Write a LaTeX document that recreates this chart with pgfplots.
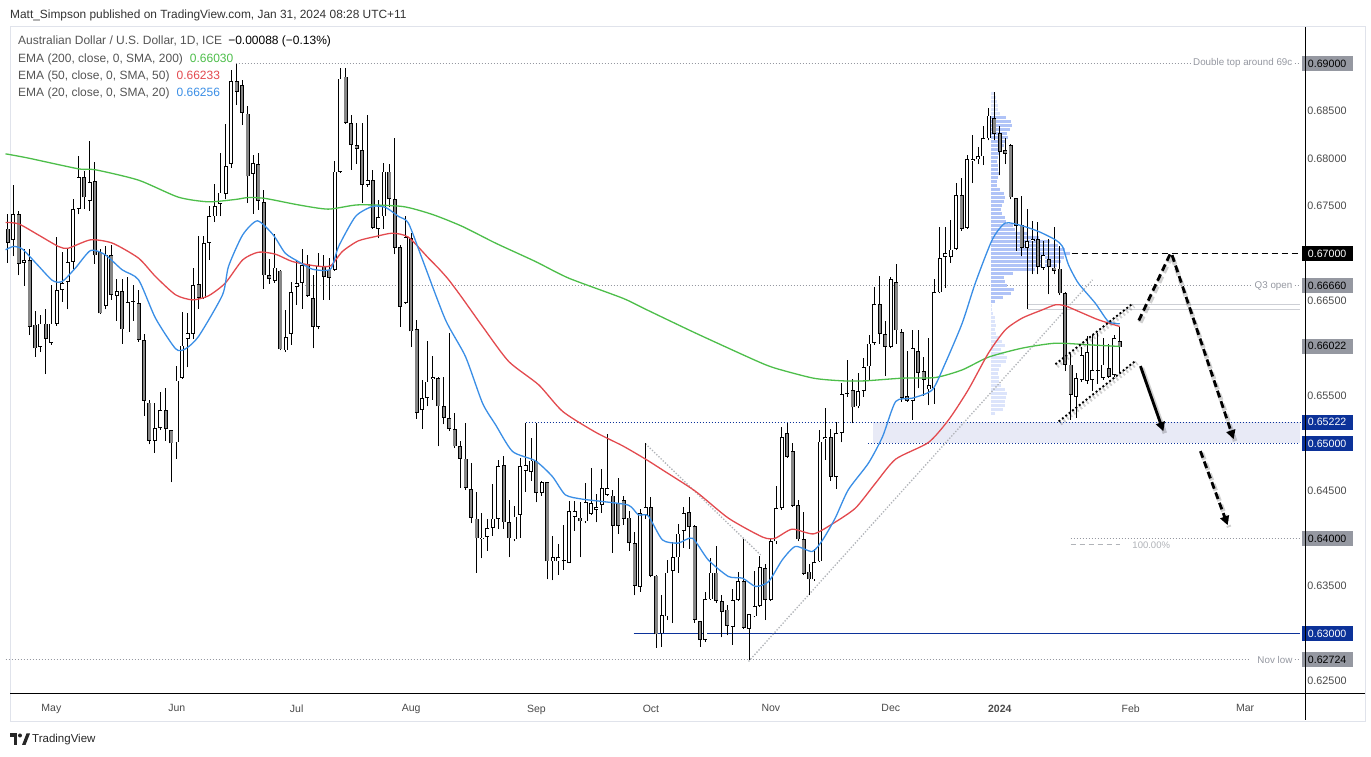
\documentclass[border=0pt]{standalone}
\usepackage{fontspec}
\setmainfont{Liberation Sans}
\usepackage{pgfplots}
\pgfplotsset{compat=1.18}
\usepackage{pgfplotstable}
\usetikzlibrary{arrows.meta}

\definecolor{maGreen}{HTML}{4DBE4A}
\definecolor{maRed}{HTML}{E34A4F}
\definecolor{maBlue}{HTML}{3A8EE6}
\definecolor{lblgray}{HTML}{9598A1}
\definecolor{navy}{HTML}{0C3299}
\definecolor{zonefill}{HTML}{E8EAF6}
\definecolor{vpdark}{HTML}{B0C3F7}
\definecolor{vplight}{HTML}{DCE4FB}
\definecolor{annogray}{HTML}{9598A1}
\definecolor{axisgray}{HTML}{4A4A4A}
\definecolor{framegray}{HTML}{E0E3EB}
\definecolor{beargray}{HTML}{858585}
\definecolor{legtext}{HTML}{555555}
\definecolor{trendgray}{HTML}{B0B3B8}

% AUD/USD daily candles: n open high low close
\pgfplotstableread{
n o h l c
1 .6726 .6742 .6690 .6711
2 .6714 .6772 .6697 .6741
3 .6741 .6745 .6677 .6689
4 .6690 .6705 .6666 .6693
5 .6693 .6705 .6614 .6623
6 .6625 .6639 .6591 .6600
7 .6602 .6635 .6596 .6626
8 .6626 .6642 .6573 .6610
9 .6606 .6667 .6604 .6626
10 .6626 .6717 .6624 .6661
11 .6662 .6702 .6649 .6669
12 .6670 .6705 .6641 .6691
13 .6691 .6757 .6684 .6747
14 .6747 .6803 .6741 .6780
15 .6780 .6787 .6747 .6759
16 .6755 .6818 .6745 .6775
17 .6776 .6796 .6689 .6698
18 .6701 .6705 .6636 .6637
19 .6645 .6708 .6641 .6698
20 .6698 .6709 .6651 .6656
21 .6655 .6673 .6629 .6660
22 .6660 .6673 .6605 .6620
23 .6617 .6675 .6617 .6649
24 .6649 .6667 .6629 .6650
25 .6648 .6661 .6607 .6609
26 .6609 .6615 .6529 .6545
27 .6543 .6546 .6499 .6503
28 .6503 .6543 .6490 .6516
29 .6516 .6554 .6514 .6535
30 .6535 .6558 .6503 .6515
31 .6514 .6514 .6459 .6500
32 .6501 .6581 .6484 .6566
33 .6569 .6638 .6568 .6603
34 .6610 .6637 .6580 .6616
35 .6615 .6685 .6610 .6667
36 .6668 .6718 .6642 .6653
37 .6653 .6718 .6652 .6711
38 .6711 .6750 .6693 .6739
39 .6739 .6773 .6733 .6750
40 .6752 .6806 .6739 .6764
41 .6763 .6836 .6757 .6792
42 .6794 .6893 .6790 .6881
43 .6881 .6899 .6856 .6870
44 .6877 .6883 .6835 .6848
45 .6847 .6855 .6753 .6781
46 .6784 .6804 .6742 .6795
47 .6794 .6806 .6746 .6755
48 .6754 .6767 .6663 .6677
49 .6677 .6694 .6668 .6673
50 .6671 .6720 .6669 .6685
51 .6682 .6683 .6598 .6599
52 .6598 .6640 .6596 .6612
53 .6615 .6670 .6604 .6659
54 .6665 .6693 .6646 .6669
55 .6669 .6705 .6642 .6688
56 .6689 .6698 .6654 .6655
57 .6653 .6677 .6600 .6623
58 .6623 .6700 .6620 .6687
59 .6687 .6698 .6651 .6675
60 .6683 .6695 .6651 .6674
61 .6683 .6797 .6682 .6786
62 .6786 .6895 .6785 .6884
63 .6886 .6895 .6836 .6837
64 .6837 .6846 .6788 .6814
65 .6814 .6837 .6794 .6810
66 .6809 .6837 .6753 .6772
67 .6772 .6846 .6770 .6777
68 .6777 .6788 .6726 .6727
69 .6726 .6756 .6716 .6738
70 .6739 .6795 .6726 .6786
71 .6786 .6794 .6749 .6757
72 .6757 .6821 .6699 .6706
73 .6707 .6709 .6623 .6644
74 .6648 .6739 .6647 .6717
75 .6716 .6722 .6602 .6618
76 .6620 .6630 .6526 .6532
77 .6535 .6567 .6515 .6548
78 .6548 .6608 .6539 .6565
79 .6568 .6592 .6546 .6570
80 .6569 .6570 .6497 .6539
81 .6539 .6570 .6520 .6527
82 .6527 .6616 .6513 .6515
83 .6515 .6532 .6495 .6497
84 .6497 .6503 .6453 .6484
85 .6484 .6521 .6451 .6453
86 .6452 .6479 .6416 .6422
87 .6421 .6449 .6364 .6400
88 .6399 .6427 .6379 .6401
89 .6402 .6420 .6387 .6411
90 .6411 .6457 .6403 .6421
91 .6421 .6483 .6410 .6476
92 .6477 .6487 .6410 .6417
93 .6417 .6440 .6380 .6400
94 .6399 .6434 .6397 .6423
95 .6425 .6485 .6401 .6476
96 .6471 .6521 .6449 .6477
97 .6470 .6506 .6461 .6482
98 .6482 .6521 .6438 .6448
99 .6448 .6460 .6445 .6459
100 .6459 .6459 .6357 .6376
101 .6376 .6403 .6356 .6380
102 .6376 .6394 .6362 .6380
103 .6376 .6414 .6367 .6377
104 .6374 .6439 .6374 .6429
105 .6423 .6439 .6408 .6429
106 .6422 .6438 .6380 .6418
107 .6418 .6458 .6416 .6438
108 .6426 .6474 .6425 .6437
109 .6430 .6447 .6417 .6433
110 .6435 .6473 .6427 .6453
111 .6446 .6510 .6445 .6453
112 .6445 .6451 .6385 .6413
113 .6437 .6464 .6405 .6413
114 .6440 .6445 .6414 .6421
115 .6422 .6429 .6387 .6395
116 .6395 .6407 .6340 .6350
117 .6349 .6431 .6344 .6427
118 .6425 .6500 .6421 .6433
119 .6433 .6444 .6359 .6361
120 .6361 .6362 .6285 .6299
121 .6300 .6341 .6286 .6319
122 .6318 .6377 .6314 .6364
123 .6366 .6396 .6311 .6380
124 .6380 .6415 .6364 .6405
125 .6408 .6433 .6390 .6427
126 .6428 .6444 .6389 .6412
127 .6413 .6414 .6311 .6314
128 .6313 .6313 .6286 .6293
129 .6293 .6344 .6291 .6336
130 .6336 .6379 .6335 .6364
131 .6364 .6392 .6332 .6334
132 .6334 .6341 .6296 .6323
133 .6325 .6330 .6298 .6308
134 .6307 .6347 .6288 .6335
135 .6335 .6365 .6334 .6355
136 .6355 .6399 .6305 .6306
137 .6305 .6320 .6272 .6320
138 .6318 .6366 .6317 .6329
139 .6329 .6382 .6328 .6370
140 .6369 .6373 .6314 .6335
141 .6335 .6399 .6334 .6397
142 .6397 .6455 .6394 .6432
143 .6432 .6517 .6430 .6507
144 .6511 .6522 .6485 .6486
145 .6492 .6500 .6433 .6434
146 .6435 .6441 .6397 .6399
147 .6399 .6428 .6362 .6363
148 .6365 .6373 .6340 .6357
149 .6357 .6389 .6355 .6375
150 .6376 .6514 .6375 .6502
151 .6505 .6537 .6483 .6507
152 .6507 .6515 .6461 .6465
153 .6465 .6523 .6452 .6511
154 .6511 .6564 .6501 .6552
155 .6552 .6588 .6549 .6553
156 .6556 .6568 .6521 .6538
157 .6539 .6574 .6537 .6555
158 .6555 .6590 .6549 .6580
159 .6581 .6614 .6566 .6605
160 .6606 .6665 .6604 .6647
161 .6647 .6676 .6605 .6615
162 .6615 .6629 .6571 .6602
163 .6602 .6675 .6600 .6673
164 .6670 .6689 .6605 .6619
165 .6617 .6620 .6544 .6548
166 .6550 .6597 .6544 .6545
167 .6545 .6619 .6525 .6600
168 .6597 .6619 .6558 .6574
169 .6576 .6591 .6550 .6567
170 .6557 .6611 .6540 .6561
171 .6558 .6673 .6542 .6659
172 .6659 .6728 .6658 .6695
173 .6696 .6728 .6664 .6700
174 .6696 .6735 .6690 .6704
175 .6705 .6774 .6704 .6761
176 .6761 .6779 .6724 .6726
177 .6727 .6804 .6726 .6799
178 .6797 .6825 .6774 .6799
179 .6799 .6812 .6794 .6802
180 .6802 .6834 .6793 .6821
181 .6821 .6853 .6819 .6845
182 .6842 .6870 .6819 .6826
183 .6827 .6834 .6782 .6807
184 .6809 .6821 .6794 .6805
185 .6814 .6815 .6757 .6759
186 .6758 .6758 .6703 .6729
187 .6730 .6760 .6697 .6706
188 .6706 .6747 .6641 .6713
189 .6713 .6734 .6678 .6715
190 .6715 .6733 .6678 .6686
191 .6685 .6713 .6683 .6698
192 .6694 .6715 .6657 .6686
193 .6685 .6728 .6678 .6682
194 .6684 .6708 .6656 .6658
195 .6658 .6659 .6576 .6583
196 .6583 .6594 .6525 .6551
197 .6549 .6574 .6527 .6569
198 .6567 .6602 .6565 .6593
199 .6566 .6613 .6563 .6596
200 .6567 .6614 .6555 .6577
201 .6576 .6616 .6563 .6577
202 .6569 .6611 .6567 .6583
203 .6579 .6605 .6569 .6570
204 .6572 .6614 .6570 .6611
205 .6608 .6623 .6574 .6601
}\candles

% volume profile, value area rows (price, length in bars)
\pgfplotstableread{
p len
.68434 2.75
.68392 3.67
.68350 3.85
.68308 3.49
.68266 2.94
.68224 3.12
.68182 2.57
.68139 2.38
.68097 1.65
.68055 1.47
.68013 1.28
.67971 1.10
.67929 1.28
.67887 1.28
.67845 1.47
.67803 1.28
.67761 1.10
.67718 1.10
.67676 1.65
.67634 2.38
.67592 2.57
.67550 2.38
.67508 2.02
.67466 1.83
.67424 2.02
.67382 2.57
.67339 2.75
.67297 4.04
.67255 4.40
.67213 6.60
.67171 8.81
.67129 10.82
.67087 12.29
.67045 13.58
.67003 14.49
.66961 13.39
.66918 12.84
.66876 12.11
.66834 8.07
.66792 4.04
.66750 2.38
.66708 2.57
.66666 2.94
.66624 4.22
.66582 3.67
.66540 2.20
.66498 0.73
}\vparea

% volume profile, rows outside the value area
\pgfplotstableread{
p len
.68687 0.73
.68645 0.92
.68603 1.10
.68561 1.28
.68518 1.28
.68476 1.65
.66455 0.18
.66413 0.18
.66371 0.37
.66329 0.73
.66287 0.73
.66245 0.92
.66203 0.73
.66161 0.92
.66119 1.47
.66077 2.02
.66035 2.57
.65993 1.83
.65951 2.38
.65909 2.94
.65866 2.75
.65824 1.83
.65782 1.47
.65740 1.28
.65698 1.47
.65656 1.47
.65614 1.83
.65572 2.57
.65530 2.94
.65488 2.75
.65446 2.57
.65403 2.57
.65361 2.20
.65319 0.73
}\vprest

\tikzset{
  pricelbl/.style={anchor=west, xshift=1pt, inner sep=0pt, minimum width=51pt,
    minimum height=15pt, font=\fontsize{10.6}{12}\selectfont},
  annotxt/.style={anchor=east, inner sep=0pt, font=\fontsize{9.8}{11}\selectfont, text=annogray},
  hdot/.style={annogray, line width=0.9pt, dash pattern=on 1pt off 2pt},
  bdot/.style={navy, line width=1pt, dash pattern=on 1pt off 2pt},
  shadow/.style={black, opacity=0.18, line width=4.5pt, shift={(1.5pt,-2pt)}},
}

\begin{document}
\begin{tikzpicture}[x=1pt,y=1pt]
\path[use as bounding box, fill=white] (0,0) rectangle (1371,757);
\draw[framegray, line width=1pt] (10,35) rectangle (1365,730);

\begin{axis}[
  at={(10,63)}, anchor=south west, scale only axis,
  width=1295pt, height=667pt,
  xmin=0.578, xmax=238.15, ymin=0.6233, ymax=0.6935,
  axis line style={draw=none},
  clip=false,
  major tick length=0pt,
  xtick={9,32,54,75,98,119,141,163,183,207,228},
  xticklabels={May,Jun,Jul,Aug,Sep,Oct,Nov,Dec,\textbf{2024},Feb,Mar},
  xticklabel style={font=\fontsize{10.5}{12}\selectfont, text=axisgray, yshift=-4pt},
  ytick={0.625,0.635,0.645,0.655,0.665,0.675,0.680,0.685},
  yticklabel pos=right,
  yticklabel style={font=\fontsize{10.8}{12}\selectfont, text=axisgray, xshift=3.5pt,
    /pgf/number format/.cd, fixed, fixed zerofill, precision=5},
  /pgf/number format/assume math mode=true,
  scaled y ticks=false,
  unbounded coords=discard,
]

% support zone and horizontal levels
\fill[zonefill] (axis cs:159.8,0.65) rectangle (axis cs:238.15,0.65222);
\draw[bdot] (axis cs:96,0.65222) -- (axis cs:238.15,0.65222);
\draw[bdot] (axis cs:158.9,0.65) -- (axis cs:238.15,0.65);
\draw[navy, line width=1.1pt] (axis cs:115.8,0.63) -- (axis cs:238.15,0.63);
\draw[hdot] (axis cs:42.8,0.69) -- (axis cs:218,0.69);
\draw[hdot] (axis cs:237.1,0.69) -- (axis cs:238.1,0.69);
\node[annotxt] at (axis cs:236.7,0.69) {Double top around 69c};
\draw[hdot] (axis cs:53.8,0.6666) -- (axis cs:229,0.6666);
\draw[hdot] (axis cs:237.1,0.6666) -- (axis cs:238.1,0.6666);
\node[annotxt] at (axis cs:236.7,0.6666) {Q3 open};
\draw[hdot] (axis cs:0.6,0.62724) -- (axis cs:229,0.62724);
\draw[hdot] (axis cs:237.1,0.62724) -- (axis cs:238.1,0.62724);
\node[annotxt] at (axis cs:236.7,0.62724) {Nov low};
\draw[black, line width=1.2pt, dash pattern=on 6pt off 4pt] (axis cs:181.5,0.67) -- (axis cs:238.15,0.67);
\draw[framegray!80!gray, line width=0.9pt] (axis cs:188.1,0.66466) -- (axis cs:238.15,0.66466);
\draw[framegray!80!gray, line width=0.9pt] (axis cs:188.1,0.66406) -- (axis cs:238.15,0.66406);
% fib 100% level
\draw[hdot] (axis cs:196,0.6400) -- (axis cs:238.15,0.6400);
\draw[trendgray, line width=0.9pt, dash pattern=on 5pt off 4pt] (axis cs:196,0.63933) -- (axis cs:205.1,0.63933);
\node[anchor=west, inner sep=0pt, font=\fontsize{9.5}{10}\selectfont, text=trendgray] at (axis cs:207.3,0.63933) {100.00\%};

% volume profile
\addplot[draw=none, mark=none, forget plot, error bars/.cd, x dir=plus, x explicit,
  error mark=none, error bar style={draw=vpdark, line width=3pt}]
  table[x expr=181.46, y=p, x error plus=len] {\vparea};
\addplot[draw=none, mark=none, forget plot, error bars/.cd, x dir=plus, x explicit,
  error mark=none, error bar style={draw=vplight, line width=3pt}]
  table[x expr=181.46, y=p, x error plus=len] {\vprest};

% trend lines
\draw[trendgray, line width=1.3pt, dash pattern=on 1.3pt off 1.7pt] (axis cs:118.0,0.64996) -- (axis cs:139.1,0.63828);
\draw[trendgray, line width=1.3pt, dash pattern=on 1.3pt off 1.7pt] (axis cs:136.9,0.62705) -- (axis cs:200.0,0.66722);

% candles: wicks, body outlines, bull and bear fills
\addplot[draw=none, mark=none, forget plot, error bars/.cd, y dir=plus, y explicit,
  error mark=none, error bar style={draw=black, line width=1pt}]
  table[x=n, y=l, y error plus expr=\thisrow{h}-\thisrow{l}] {\candles};
\addplot[draw=none, mark=none, forget plot, error bars/.cd, y dir=plus, y explicit,
  error mark=none, error bar style={draw=black, line width=4pt}]
  table[x=n, y expr={min(\thisrow{o},\thisrow{c})},
    y error plus expr={max(abs(\thisrow{c}-\thisrow{o}),0.00009)}] {\candles};
\addplot[draw=none, mark=none, forget plot,
  restrict expr to domain={\thisrow{c}-\thisrow{o}}{0.00017:1},
  error bars/.cd, y dir=plus, y explicit,
  error mark=none, error bar style={draw=white, line width=2.5pt}]
  table[x=n, y expr=\thisrow{o}+0.00008,
    y error plus expr=\thisrow{c}-\thisrow{o}-0.00016] {\candles};
\addplot[draw=none, mark=none, forget plot,
  restrict expr to domain={\thisrow{o}-\thisrow{c}}{0.00017:1},
  error bars/.cd, y dir=plus, y explicit,
  error mark=none, error bar style={draw=beargray, line width=2.5pt}]
  table[x=n, y expr=\thisrow{c}+0.00008,
    y error plus expr=\thisrow{o}-\thisrow{c}-0.00016] {\candles};

% moving averages
\addplot[maGreen, line width=1.3pt, smooth, tension=0.4, mark=none] coordinates {
(0.6,0.68048) (4.8,0.68003) (14.0,0.67890) (17.1,0.67880) (25.0,0.67771)
(32.3,0.67592) (37.8,0.67543) (42.8,0.67568) (45.2,0.67589) (48.3,0.67578)
(54.3,0.67511) (59.8,0.67466) (65.3,0.67511) (73.4,0.67494) (78.9,0.67410)
(84.4,0.67284) (90.5,0.67108) (97.8,0.66915) (103.9,0.66740) (113.8,0.66529)
(118.0,0.66413) (127.2,0.66161) (138.2,0.65873) (141.8,0.65792) (148.8,0.65687)
(154.1,0.65659) (158.3,0.65659) (165.1,0.65687) (171.2,0.65694) (176.1,0.65774)
(180.9,0.65908) (187.1,0.66003) (193.2,0.66055) (199.3,0.66038) (205.0,0.66021)};
\addplot[maRed, line width=1.3pt, smooth, tension=0.4, mark=none] coordinates {
(0.6,0.67326) (3.0,0.67311) (6.6,0.67195) (10.3,0.67073) (12.1,0.67055)
(16.2,0.67143) (20.2,0.67108) (25.0,0.66950) (28.1,0.66757) (31.8,0.66564)
(34.9,0.66511) (37.8,0.66553) (40.9,0.66687) (44.1,0.66932) (47.0,0.67013)
(50.1,0.66992) (53.2,0.66915) (57.4,0.66869) (60.2,0.66869) (62.4,0.67021)
(65.3,0.67132) (68.5,0.67178) (71.6,0.67213) (74.5,0.67171) (78.2,0.66950)
(80.0,0.66845) (81.9,0.66722) (84.4,0.66529) (88.1,0.66231) (92.9,0.65863)
(98.4,0.65617) (102.8,0.65337) (108.8,0.65119) (113.8,0.64975) (118.0,0.64835)
(121.1,0.64722) (127.2,0.64495) (133.2,0.64214) (139.5,0.64014) (141.8,0.64003)
(144.9,0.64098) (148.8,0.64048) (152.3,0.64154) (156.5,0.64319) (160.2,0.64582)
(163.9,0.64835) (169.9,0.65010) (173.6,0.65248) (177.2,0.65564) (180.9,0.65950)
(184.0,0.66195) (187.1,0.66319) (190.8,0.66406) (193.2,0.66459) (195.0,0.66448)
(198.2,0.66371) (201.1,0.66301) (205.0,0.66231)};
\addplot[maBlue, line width=1.3pt, smooth, tension=0.4, mark=none] coordinates {
(0.6,0.67038) (2.05,0.67073) (3.7,0.67045) (6.45,0.66880) (9.2,0.66715)
(11.0,0.66705) (13.4,0.66845) (16.2,0.67031) (18.9,0.66985) (22.0,0.66827)
(25.0,0.66722) (28.1,0.66319) (31.8,0.65996) (33.6,0.65996) (36.0,0.66126)
(40.4,0.66564) (41.5,0.66863) (44.1,0.67195) (46.8,0.67343) (49.7,0.67195)
(51.9,0.67003) (54.3,0.66915) (56.9,0.66834) (60.2,0.66834) (61.7,0.67073)
(64.8,0.67389) (67.9,0.67494) (70.3,0.67484) (72.7,0.67389) (74.5,0.67319)
(77.1,0.66932) (81.3,0.66301) (84.96,0.65916) (88.1,0.65424) (90.5,0.65196)
(93.6,0.64916) (97.8,0.64817) (100.9,0.64653) (103.3,0.64459) (106.4,0.64414)
(110.1,0.64389) (114.9,0.64350) (116.7,0.64248) (118.5,0.64238) (121.1,0.63985)
(124.0,0.63951) (126.6,0.64003) (129.5,0.63775) (133.2,0.63600) (135.8,0.63582)
(138.2,0.63495) (140.6,0.63547) (143.1,0.63775) (145.5,0.63916) (148.6,0.63863)
(150.5,0.63985) (152.8,0.64214) (155.2,0.64512) (158.9,0.64793) (161.5,0.65073)
(163.9,0.65442) (166.97,0.65477) (170.6,0.65564) (173.0,0.65845) (176.1,0.66266)
(178.5,0.66687) (181.6,0.67143) (184.0,0.67319) (187.1,0.67290) (190.1,0.67231)
(193.2,0.67143) (194.5,0.67073) (195.6,0.66880) (197.4,0.66687) (200.5,0.66477)
(202.9,0.66284) (205.0,0.66259)};

% channel and projected path, with drop shadow
\draw[shadow, dash pattern=on 1.8pt off 2.4pt] (axis cs:193.2,0.65834) -- (axis cs:207.3,0.66469);
\draw[shadow, dash pattern=on 1.8pt off 2.4pt] (axis cs:193.8,0.65231) -- (axis cs:207.9,0.65869);
\draw[black, line width=1.9pt, dash pattern=on 1.9pt off 2.4pt] (axis cs:193.2,0.65834) -- (axis cs:207.3,0.66469);
\draw[black, line width=1.9pt, dash pattern=on 1.9pt off 2.4pt] (axis cs:193.8,0.65231) -- (axis cs:207.9,0.65869);

\draw[shadow, dash pattern=on 7pt off 4pt] (axis cs:208.5,0.66294) -- (axis cs:214.3,0.67000) -- (axis cs:225.9,0.65045);
\draw[shadow] (axis cs:208.8,0.65814) -- (axis cs:213.0,0.65129);
\draw[shadow, dash pattern=on 7pt off 4pt] (axis cs:219.8,0.64919) -- (axis cs:224.8,0.64140);
\draw[black, line width=2.8pt, dash pattern=on 7pt off 4pt] (axis cs:208.5,0.66294) -- (axis cs:214.3,0.67000);
\draw[black, line width=2.8pt, dash pattern=on 7pt off 4pt, -{Triangle[length=9pt,width=9pt]}] (axis cs:214.6,0.66982) -- (axis cs:225.9,0.65045);
\draw[black, line width=2.8pt, -{Triangle[length=9pt,width=9pt]}] (axis cs:208.8,0.65814) -- (axis cs:213.0,0.65129);
\draw[black, line width=2.8pt, dash pattern=on 7pt off 4pt, -{Triangle[length=9pt,width=9pt]}] (axis cs:219.8,0.64919) -- (axis cs:224.8,0.64140);

% price scale labels
\node[pricelbl, fill=lblgray, text=black] at (axis cs:238.15,0.69) {0.69000};
\node[pricelbl, fill=black, text=white] at (axis cs:238.15,0.67) {0.67000};
\node[pricelbl, fill=lblgray, text=black] at (axis cs:238.15,0.6666) {0.66660};
\node[pricelbl, fill=lblgray, text=black] at (axis cs:238.15,0.66022) {0.66022};
\node[pricelbl, fill=navy, text=white] at (axis cs:238.15,0.65222) {0.65222};
\node[pricelbl, fill=navy, text=white] at (axis cs:238.15,0.65) {0.65000};
\node[pricelbl, fill=lblgray, text=black] at (axis cs:238.15,0.64) {0.64000};
\node[pricelbl, fill=navy, text=white] at (axis cs:238.15,0.63) {0.63000};
\node[pricelbl, fill=lblgray, text=black] at (axis cs:238.15,0.62724) {0.62724};
\end{axis}

\draw[black, line width=1pt] (10,63) -- (1365,63);
\draw[black, line width=1pt] (1305,37) -- (1305,730);

% header, legend, footer
\node[anchor=west, inner sep=0pt, font=\fontsize{11.9}{13}\selectfont, text=black!80] at (10,742)
  {Matt\_Simpson published on TradingView.com, Jan 31, 2024 08:28 UTC+11};
\begin{scope}[every node/.style={anchor=west, inner sep=0pt, font=\fontsize{12}{13}\selectfont, text=legtext}]
\node at (18,716) {Australian Dollar / U.S. Dollar, 1D, ICE\hspace{6pt}\textcolor{black}{−0.00088 (−0.13\%)}};
\node at (18,698) {EMA (200, close, 0, SMA, 200)\hspace{7pt}\textcolor{maGreen}{0.66030}};
\node at (18,681) {EMA (50, close, 0, SMA, 50)\hspace{7pt}\textcolor{maRed}{0.66233}};
\node at (18,664) {EMA (20, close, 0, SMA, 20)\hspace{7pt}\textcolor{maBlue}{0.66256}};
\end{scope}
\fill[black!85] (10,20) rectangle (17,23.5);
\fill[black!85] (13.5,12) rectangle (17,23.5);
\fill[black!85] (20,21.5) circle (2pt);
\fill[black!85] (22,12) -- (26.5,23.5) -- (30,23.5) -- (25.5,12) -- cycle;
\node[anchor=west, inner sep=0pt, font=\fontsize{11.5}{13}\selectfont, text=black!85] at (32,17) {TradingView};
\end{tikzpicture}
\end{document}
